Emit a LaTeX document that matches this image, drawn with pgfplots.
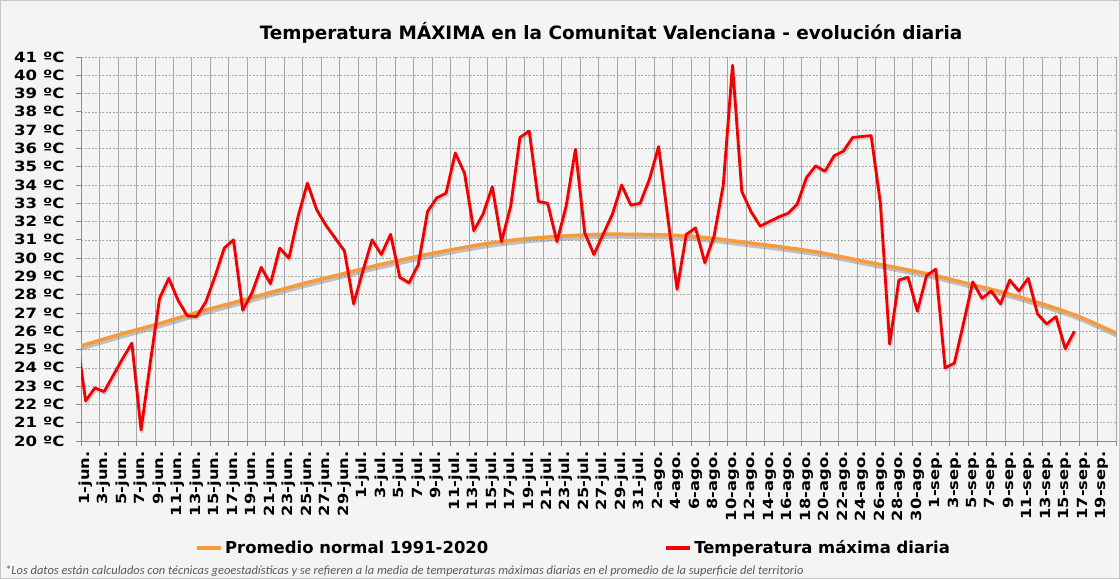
\documentclass[border=0pt]{standalone}
\usepackage{fontspec}
\setmainfont{DejaVu Sans}
\newfontfamily\notefont{Carlito}
\newfontfamily\tickfont{DejaVu Sans}[FakeStretch=1.17]
\usepackage{pgfplots}
\pgfplotsset{compat=1.18}
\definecolor{bg}{HTML}{F4F4F4}
\definecolor{gridc}{HTML}{A6A6A6}
\definecolor{axisc}{HTML}{8C8C8C}
\definecolor{orangec}{HTML}{F79A3E}
\definecolor{redc}{HTML}{F00000}
\definecolor{notec}{HTML}{595959}
\definecolor{shadowc}{HTML}{7F7F7F}
\begin{document}
\begin{tikzpicture}[x=1bp,y=1bp]
\fill[bg] (0,0) rectangle (1120,579);
\draw[gray!45, line width=0.8bp] (0.4,0.4) rectangle (1119.6,578.6);
\useasboundingbox (0,0) rectangle (1120,579);
\node[font=\bfseries\fontsize{18.5}{18.5}\selectfont] at (611,546) {Temperatura MÁXIMA en la Comunitat Valenciana - evolución diaria};
\node[anchor=west, inner sep=0pt, font=\notefont\itshape\fontsize{12.5}{12.5}\selectfont, text=notec] at (5,8) {*Los datos están calculados con técnicas geoestadísticas y se refieren a la media de temperaturas máximas diarias en el promedio de la superficie del territorio};
\begin{axis}[
  at={(81bp,138bp)}, anchor=south west,
  scale only axis, width=1035bp, height=384bp,
  xmin=0, xmax=112, ymin=20, ymax=41,
  axis x line*=bottom, axis y line*=left,
  axis line style={axisc, line width=0.8bp, -},
  tick align=outside, major tick length=5bp,
  tick style={axisc, line width=0.8bp},
  xtick={0,2,...,112}, xticklabels={},
  xmajorgrids, x grid style={gridc, line width=0.8bp},
  extra x ticks={0.5,2.5,...,110.5},
  extra x tick labels={1-jun.,3-jun.,5-jun.,7-jun.,9-jun.,11-jun.,13-jun.,15-jun.,17-jun.,19-jun.,21-jun.,23-jun.,25-jun.,27-jun.,29-jun.,1-jul.,3-jul.,5-jul.,7-jul.,9-jul.,11-jul.,13-jul.,15-jul.,17-jul.,19-jul.,21-jul.,23-jul.,25-jul.,27-jul.,29-jul.,31-jul.,2-ago.,4-ago.,6-ago.,8-ago.,10-ago.,12-ago.,14-ago.,16-ago.,18-ago.,20-ago.,22-ago.,24-ago.,26-ago.,28-ago.,30-ago.,1-sep.,3-sep.,5-sep.,7-sep.,9-sep.,11-sep.,13-sep.,15-sep.,17-sep.,19-sep.},
  extra x tick style={major tick length=0pt, grid=none},
  xticklabel style={rotate=90, anchor=east, font=\tickfont\bfseries\fontsize{14}{14}\selectfont, xshift=-7bp},
  ytick={20,...,41},
  yticklabels={20 ºC,21 ºC,22 ºC,23 ºC,24 ºC,25 ºC,26 ºC,27 ºC,28 ºC,29 ºC,30 ºC,31 ºC,32 ºC,33 ºC,34 ºC,35 ºC,36 ºC,37 ºC,38 ºC,39 ºC,40 ºC,41 ºC},
  yticklabel style={font=\tickfont\bfseries\fontsize{14.2}{14.2}\selectfont, xshift=-8bp},
  ymajorgrids, y grid style={gridc, line width=0.6bp, dash pattern=on 2bp off 1.5bp},
  legend style={at={(axis description cs:0.1101,-0.2786)}, anchor=west, draw=none, fill=none, inner sep=0pt, legend columns=2, font=\bfseries\fontsize{16.5}{16.5}\selectfont},
  legend image code/.code={\draw[#1, line width=4bp] (0bp,0bp) -- (24bp,0bp);},
]
% shadows
\addplot[shadowc, opacity=0.45, line width=4bp, smooth, forget plot, transform canvas={xshift=1bp,yshift=-2.5bp}] coordinates {(0,25.2)(4,25.8)(8,26.35)(12,26.95)(16,27.5)(20,28.05)(24,28.6)(28,29.1)(32,29.6)(36,30.05)(40,30.45)(44,30.8)(48,31.05)(52,31.2)(56,31.3)(60,31.3)(64,31.25)(68,31.1)(72,30.85)(76,30.6)(80,30.3)(84,29.9)(88,29.5)(92,29.1)(96,28.6)(100,28.1)(104,27.5)(108,26.8)(112,25.9)};
\addplot[orangec, line width=3.5bp, smooth] coordinates {(0,25.2)(4,25.8)(8,26.35)(12,26.95)(16,27.5)(20,28.05)(24,28.6)(28,29.1)(32,29.6)(36,30.05)(40,30.45)(44,30.8)(48,31.05)(52,31.2)(56,31.3)(60,31.3)(64,31.25)(68,31.1)(72,30.85)(76,30.6)(80,30.3)(84,29.9)(88,29.5)(92,29.1)(96,28.6)(100,28.1)(104,27.5)(108,26.8)(112,25.9)};
\addlegendentry{Promedio normal 1991-2020\hspace*{174bp}\mbox{}}
\addplot[shadowc, opacity=0.3, line width=3bp, forget plot, line join=round, transform canvas={xshift=1bp,yshift=-2bp}] coordinates {(-0.5,25.8)(0.5,22.2)(1.5,22.9)(2.5,22.7)(3.5,23.6)(4.5,24.5)(5.5,25.35)(6.5,20.6)(7.5,24.3)(8.5,27.8)(9.5,28.9)(10.5,27.7)(11.5,26.85)(12.5,26.8)(13.5,27.6)(14.5,29.0)(15.5,30.55)(16.5,31.0)(17.5,27.15)(18.5,28.1)(19.5,29.5)(20.5,28.6)(21.5,30.55)(22.5,30.0)(23.5,32.3)(24.5,34.1)(25.5,32.65)(26.5,31.8)(27.5,31.1)(28.5,30.4)(29.5,27.5)(30.5,29.3)(31.5,31.0)(32.5,30.2)(33.5,31.3)(34.5,28.95)(35.5,28.65)(36.5,29.65)(37.5,32.55)(38.5,33.3)(39.5,33.55)(40.5,35.75)(41.5,34.65)(42.5,31.5)(43.5,32.4)(44.5,33.9)(45.5,30.9)(46.5,32.85)(47.5,36.6)(48.5,36.95)(49.5,33.1)(50.5,33.0)(51.5,30.9)(52.5,32.85)(53.5,35.95)(54.5,31.4)(55.5,30.2)(56.5,31.3)(57.5,32.4)(58.5,34.0)(59.5,32.9)(60.5,33.0)(61.5,34.3)(62.5,36.1)(63.5,32.2)(64.5,28.3)(65.5,31.3)(66.5,31.65)(67.5,29.75)(68.5,31.2)(69.5,34.0)(70.5,40.55)(71.5,33.65)(72.5,32.55)(73.5,31.75)(74.5,32.0)(75.5,32.25)(76.5,32.45)(77.5,32.95)(78.5,34.4)(79.5,35.05)(80.5,34.75)(81.5,35.6)(82.5,35.85)(83.5,36.6)(84.5,36.65)(85.5,36.7)(86.5,33.0)(87.5,25.3)(88.5,28.8)(89.5,28.95)(90.5,27.1)(91.5,29.05)(92.5,29.4)(93.5,24.0)(94.5,24.25)(95.5,26.45)(96.5,28.7)(97.5,27.8)(98.5,28.2)(99.5,27.5)(100.5,28.8)(101.5,28.2)(102.5,28.9)(103.5,26.95)(104.5,26.4)(105.5,26.8)(106.5,25.05)(107.5,26.0)};
\addplot[redc, line width=2.8bp, line join=round] coordinates {(-0.5,25.8)(0.5,22.2)(1.5,22.9)(2.5,22.7)(3.5,23.6)(4.5,24.5)(5.5,25.35)(6.5,20.6)(7.5,24.3)(8.5,27.8)(9.5,28.9)(10.5,27.7)(11.5,26.85)(12.5,26.8)(13.5,27.6)(14.5,29.0)(15.5,30.55)(16.5,31.0)(17.5,27.15)(18.5,28.1)(19.5,29.5)(20.5,28.6)(21.5,30.55)(22.5,30.0)(23.5,32.3)(24.5,34.1)(25.5,32.65)(26.5,31.8)(27.5,31.1)(28.5,30.4)(29.5,27.5)(30.5,29.3)(31.5,31.0)(32.5,30.2)(33.5,31.3)(34.5,28.95)(35.5,28.65)(36.5,29.65)(37.5,32.55)(38.5,33.3)(39.5,33.55)(40.5,35.75)(41.5,34.65)(42.5,31.5)(43.5,32.4)(44.5,33.9)(45.5,30.9)(46.5,32.85)(47.5,36.6)(48.5,36.95)(49.5,33.1)(50.5,33.0)(51.5,30.9)(52.5,32.85)(53.5,35.95)(54.5,31.4)(55.5,30.2)(56.5,31.3)(57.5,32.4)(58.5,34.0)(59.5,32.9)(60.5,33.0)(61.5,34.3)(62.5,36.1)(63.5,32.2)(64.5,28.3)(65.5,31.3)(66.5,31.65)(67.5,29.75)(68.5,31.2)(69.5,34.0)(70.5,40.55)(71.5,33.65)(72.5,32.55)(73.5,31.75)(74.5,32.0)(75.5,32.25)(76.5,32.45)(77.5,32.95)(78.5,34.4)(79.5,35.05)(80.5,34.75)(81.5,35.6)(82.5,35.85)(83.5,36.6)(84.5,36.65)(85.5,36.7)(86.5,33.0)(87.5,25.3)(88.5,28.8)(89.5,28.95)(90.5,27.1)(91.5,29.05)(92.5,29.4)(93.5,24.0)(94.5,24.25)(95.5,26.45)(96.5,28.7)(97.5,27.8)(98.5,28.2)(99.5,27.5)(100.5,28.8)(101.5,28.2)(102.5,28.9)(103.5,26.95)(104.5,26.4)(105.5,26.8)(106.5,25.05)(107.5,26.0)};
\addlegendentry{Temperatura máxima diaria}
\end{axis}
\end{tikzpicture}
\end{document}
